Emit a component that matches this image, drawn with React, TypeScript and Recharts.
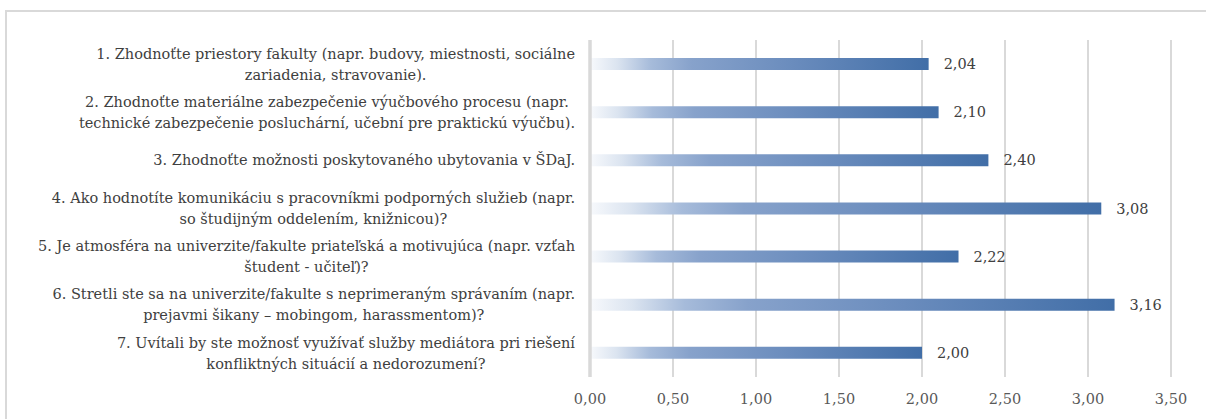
import React from "react";
import { Bar, BarChart, CartesianGrid, LabelList, XAxis, YAxis } from "recharts";

const questions = [
  "1. Zhodnoťte priestory fakulty (napr. budovy, miestnosti, sociálne\nzariadenia, stravovanie).",
  "2. Zhodnoťte materiálne zabezpečenie výučbového procesu (napr.\ntechnické zabezpečenie posluchární, učební pre praktickú výučbu).",
  "3. Zhodnoťte možnosti poskytovaného ubytovania v ŠDaJ.",
  "4. Ako hodnotíte komunikáciu s pracovníkmi podporných služieb (napr.\nso študijným oddelením, knižnicou)?",
  "5. Je atmosféra na univerzite/fakulte priateľská a motivujúca (napr. vzťah\nštudent - učiteľ)?",
  "6. Stretli ste sa na univerzite/fakulte s neprimeraným správaním (napr.\nprejavmi šikany – mobingom, harassmentom)?",
  "7. Uvítali by ste možnosť využívať služby mediátora pri riešení\nkonfliktných situácií a nedorozumení?",
];
const scores = [2.04, 2.1, 2.4, 3.08, 2.22, 3.16, 2.0];
const xTicks = [0, 0.5, 1, 1.5, 2, 2.5, 3, 3.5];

const data = questions.map((q, i) => ({ q, score: scores[i] }));

// no Times-like face in the sandbox, DejaVu Serif at a smaller size is the closest fit
const FONT = "'DejaVu Serif', serif";
const FS = 14.5;
const LINE = 21;

let ctx: CanvasRenderingContext2D | null = null;
function textWidth(s: string) {
  if (!ctx) ctx = document.createElement("canvas").getContext("2d");
  if (!ctx) return s.length * 8;
  ctx.font = `${FS}px ${FONT}`;
  return ctx.measureText(s).width;
}

const fmt = (v: number) => v.toFixed(2).replace(".", ",");

function QuestionTick(props: any) {
  const { x, y, payload } = props;
  const lines: string[] = String(payload.value).split("\n");
  const maxW = Math.max(...lines.map(textWidth));
  const cx = x - maxW / 2;
  const first = -((lines.length - 1) * LINE) / 2;
  return (
    <text x={cx} y={y} textAnchor="middle" fill="#404040" style={{ fontSize: FS, fontFamily: FONT }}>
      {lines.map((l, i) => (
        <tspan key={i} x={cx} y={y + first + i * LINE} dy="0.35em">
          {l}
        </tspan>
      ))}
    </text>
  );
}

function ValueLabel(props: any) {
  const { x, y, width, height, value } = props;
  return (
    <text x={x + width + 15} y={y + height / 2} dy="0.35em" fill="#404040" style={{ fontSize: FS, fontFamily: FONT }}>
      {fmt(Number(value))}
    </text>
  );
}

function XTick(props: any) {
  const { x, y, payload } = props;
  return (
    <text x={x} y={y} dy="0.71em" textAnchor="middle" fill="#595959" style={{ fontSize: FS, fontFamily: FONT }}>
      {fmt(Number(payload.value))}
    </text>
  );
}

export default function App() {
  return (
    <div style={{ position: "absolute", left: 0, top: 0, width: 1206, height: 419, overflow: "hidden", background: "#fff" }}>
      <div
        style={{
          position: "absolute",
          left: 5,
          top: 10,
          width: 1240,
          height: 440,
          border: "2px solid #d9d9d9",
        }}
      />
      <div style={{ position: "absolute", left: 0, top: 0 }}>
        <BarChart
          width={1206}
          height={419}
          data={data}
          layout="vertical"
          margin={{ top: 40, right: 35, bottom: 12, left: 0 }}
        >
          <defs>
            <linearGradient id="barGrad" x1="0" y1="0" x2="1" y2="0">
              <stop offset="0" stopColor="#f7f9fc" />
              <stop offset="0.08" stopColor="#dbe4f0" />
              <stop offset="0.18" stopColor="#a6bbda" />
              <stop offset="0.3" stopColor="#87a2cb" />
              <stop offset="0.6" stopColor="#6a8cbd" />
              <stop offset="1" stopColor="#416ea7" />
            </linearGradient>
          </defs>
          <CartesianGrid horizontal={false} stroke="#d9d9d9" strokeWidth={2} />
          <XAxis
            type="number"
            domain={[0, 3.5]}
            ticks={xTicks}
            axisLine={false}
            tickLine={false}
            tickMargin={11}
            height={30}
            tick={<XTick />}
            interval={0}
          />
          <YAxis
            type="category"
            dataKey="q"
            width={590}
            axisLine={{ stroke: "#d9d9d9", strokeWidth: 3.5 }}
            tickLine={false}
            tickMargin={9}
            tick={<QuestionTick />}
            interval={0}
          />
          <Bar dataKey="score" fill="url(#barGrad)" barSize={12} isAnimationActive={false}>
            <LabelList dataKey="score" content={<ValueLabel />} />
          </Bar>
        </BarChart>
      </div>
    </div>
  );
}
